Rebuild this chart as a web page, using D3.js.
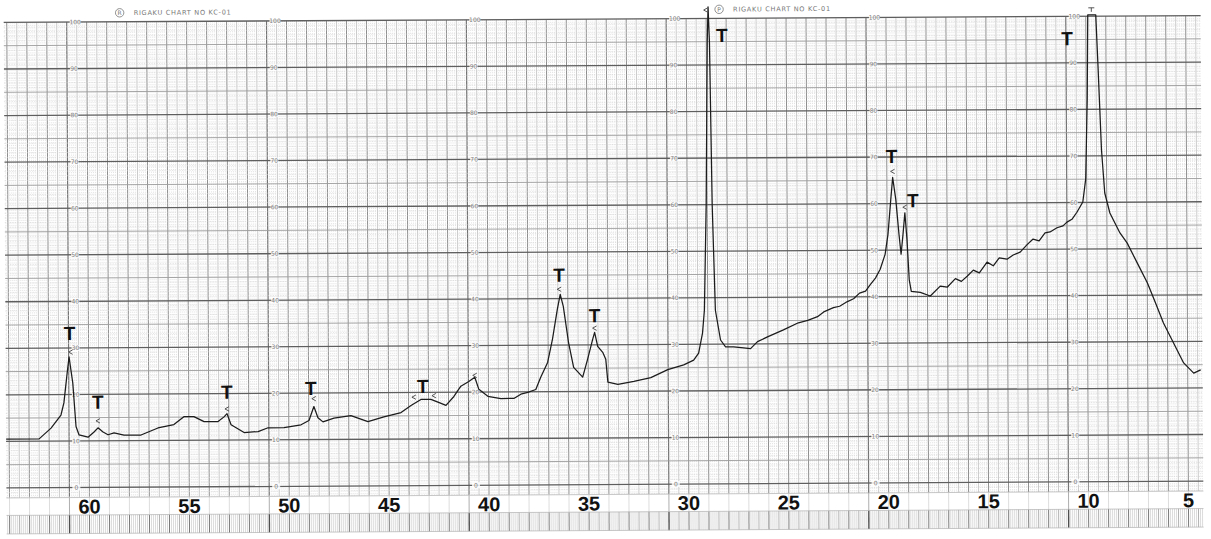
<!DOCTYPE html>
<html>
<head>
<meta charset="utf-8">
<script src="https://cdn.jsdelivr.net/npm/d3@7"></script>
<style>
  html, body { margin: 0; padding: 0; background: #fff; }
  svg { display: block; }
</style>
</head>
<body>
<svg id="chart" width="1211" height="539"></svg>
<script>
// Diffractometer trace: 2θ in degrees (scan runs from high to low angle) and recorder reading (% of full scale)
const twoTheta = [
  64.15, 62.50, 61.90, 61.40, 61.25, 61.10, 60.98, 60.80, 60.65, 60.50,
  60.05, 59.75, 59.55, 59.30, 59.05, 58.75, 58.25, 57.40, 56.55, 55.75,
  55.25, 54.75, 54.24, 53.54, 53.24, 53.09, 52.89, 52.24, 51.54, 51.04,
  50.24, 49.39, 48.99, 48.74, 48.54, 48.29, 47.74, 46.89, 46.04, 45.24,
  44.38, 43.88, 43.38, 42.88, 42.53, 42.13, 41.73, 41.38, 40.98, 40.68,
  40.48, 40.03, 39.38, 38.73, 38.38, 38.03, 37.63, 37.38, 37.03, 36.78,
  36.53, 36.38, 36.23, 35.98, 35.73, 35.28, 35.03, 34.77, 34.67, 34.52,
  34.27, 34.12, 34.02, 33.52, 32.72, 31.87, 31.02, 30.22, 29.72, 29.47,
  29.27, 29.17, 29.05, 28.95, 28.90, 28.84, 28.75, 28.62, 28.37, 28.12,
  27.72, 27.22, 26.87, 26.52, 26.02, 25.22, 24.47, 24.00, 23.51, 23.20,
  22.71, 22.40, 22.01, 21.70, 21.40, 21.10, 20.86, 20.60, 20.36, 20.11,
  19.96, 19.81, 19.71, 19.56, 19.41, 19.31, 19.21, 19.11, 19.01, 18.91,
  18.81, 18.36, 17.86, 17.36, 17.00, 16.60, 16.30, 16.01, 15.70, 15.40,
  15.01, 14.70, 14.40, 14.01, 13.70, 13.35, 13.00, 12.70, 12.40, 12.10,
  11.85, 11.50, 11.20, 11.00, 10.75, 10.50, 10.20, 10.05, 9.95, 9.90,
  9.50, 9.40, 9.25, 9.10, 8.85, 8.35, 7.99, 7.49, 6.99, 6.59,
  6.20, 5.70, 5.20, 4.70, 4.35
];
const intensity = [
  10.5, 10.5, 12.8, 15.6, 18.2, 23.8, 28.1, 22.5, 13.1, 11.3,
  10.8, 11.9, 12.8, 11.9, 11.3, 11.7, 11.2, 11.2, 12.7, 13.4,
  15.1, 15.1, 14.0, 14.0, 15.0, 15.7, 13.3, 11.6, 11.8, 12.6,
  12.6, 13.2, 14.1, 17.1, 14.7, 13.8, 14.6, 15.1, 13.8, 14.8,
  15.7, 17.2, 18.5, 18.5, 17.9, 17.2, 19.1, 21.3, 22.3, 23.2,
  20.6, 19.1, 18.6, 18.6, 19.5, 19.9, 20.5, 23.1, 26.3, 31.3,
  37.7, 40.9, 38.3, 30.6, 25.2, 23.1, 26.9, 31.2, 32.7, 29.7,
  28.4, 26.9, 22.0, 21.5, 22.1, 22.9, 24.6, 25.6, 26.6, 28.1,
  32.4, 37.3, 60.0, 95.0, 102.5, 95.0, 60.0, 37.3, 30.9, 29.4,
  29.4, 29.2, 29.0, 30.5, 31.5, 33.0, 34.5, 35.0, 35.8, 36.8,
  37.7, 38.0, 39.0, 39.6, 40.8, 41.2, 42.6, 44.0, 45.9, 49.1,
  53.4, 60.9, 65.6, 60.9, 53.4, 49.1, 53.3, 58.0, 52.2, 43.6,
  41.1, 40.9, 40.1, 42.2, 42.0, 43.8, 43.2, 44.3, 45.6, 45.0,
  47.3, 46.5, 48.2, 47.9, 48.8, 49.4, 51.0, 52.2, 51.8, 53.5,
  53.7, 54.6, 55.0, 55.8, 56.4, 57.9, 60.1, 65.0, 82.2, 100.3,
  100.3, 89.1, 71.2, 62.0, 57.7, 53.4, 51.2, 46.9, 42.6, 38.3,
  34.0, 29.7, 25.4, 23.2, 23.9
];

// Bold angle labels printed along the foot of the chart
const axisTicks = [60, 55, 50, 45, 40, 35, 30, 25, 20, 15, 10, 5];

// Hand-written "T" peak annotations: 2θ and level of each letter
const tLabelTheta = [60.95, 59.55, 53.09, 48.89, 43.28, 36.43, 34.67, 28.22, 19.76, 18.71, 10.95];
const tLabelLevel = [31.7, 16.9, 18.9, 19.6, 19.9, 43.6, 34.9, 94.9, 68.7, 59.2, 93.8];

// Pen ticks the recorder left at the peak tops
const penTickTheta = [60.90, 59.55, 53.09, 48.74, 43.73, 42.73, 40.68, 36.43, 34.67, 29.02, 19.71, 19.11];
const penTickLevel = [29.1, 14.3, 16.7, 18.8, 19.0, 19.3, 23.6, 42.0, 33.6, 101.8, 66.9, 59.2];

// Printed scale of the recorder paper
const paperScale = [0, 10, 20, 30, 40, 50, 60, 70, 80, 90, 100];
const paperSections = [61, 51, 41, 31, 21, 11];
const paperHeaders = [61, 31];

const W = 1211, H = 539;
const x = d3.scaleLinear().domain([60, 5]).range([88, 1187]);
const y = d3.scaleLinear().domain([0, 100]).range([484.5, 19]);
const xLeft = 5, xRight = 1202;
const thetaHigh = x.invert(xLeft), thetaLow = x.invert(xRight);

const svg = d3.select('#chart');
svg.append('rect').attr('width', W).attr('height', H).attr('fill', '#fff');

// the scanned sheet sits very slightly askew
const paper = svg.append('g').attr('transform', 'rotate(-0.33 605 250)');

const y0 = y(0);
const gridBottom = y0 + 10;       // lower edge of the plotting grid
const bandBottom = y0 + 27.5;     // white label strip
const stripBottom = y0 + 46;      // tick ruler under the labels

// ---- vertical rulings (every 0.1°) ----
const tenths = d3.range(Math.ceil(thetaLow * 10), Math.floor(thetaHigh * 10) + 1);
function vStyle(k) {
  if (k % 100 === 10) return { c: '#737373', w: 1.2, d: null };
  if (k % 10 === 0) return { c: '#8e8e8e', w: 1.0, d: null };
  if (k % 5 === 0) return { c: '#b4b4b4', w: 0.7, d: null };
  return { c: '#d2d2d2', w: 0.6, d: '1.2,1.3' };
}
const vg = paper.append('g');
tenths.forEach(k => {
  const s = vStyle(k);
  const xx = x(k / 10);
  vg.append('line')
    .attr('x1', xx).attr('x2', xx)
    .attr('y1', y(100)).attr('y2', gridBottom)
    .attr('stroke', s.c).attr('stroke-width', s.w)
    .attr('stroke-dasharray', s.d);
});

// ---- horizontal rulings (every unit) ----
const hg = paper.append('g');
d3.range(-2, 101).forEach(v => {
  let c = '#d2d2d2', w = 0.6, d = '1.2,1.3';
  if (v % 10 === 0) { c = '#5e5e5e'; w = 1.3; d = null; }
  else if (v % 5 === 0) { c = '#9c9c9c'; w = 0.9; d = null; }
  hg.append('line')
    .attr('x1', xLeft).attr('x2', xRight)
    .attr('y1', y(v)).attr('y2', y(v))
    .attr('stroke', c).attr('stroke-width', w)
    .attr('stroke-dasharray', d);
});

// ---- label strip and tick ruler ----
paper.append('rect')
  .attr('x', xLeft).attr('y', gridBottom)
  .attr('width', xRight - xLeft).attr('height', bandBottom - gridBottom)
  .attr('fill', '#fff');
const bg = paper.append('g');
tenths.forEach(k => {
  const xx = x(k / 10);
  if (k % 10 === 0) {
    bg.append('line').attr('x1', xx).attr('x2', xx)
      .attr('y1', gridBottom).attr('y2', bandBottom)
      .attr('stroke', k % 100 === 10 ? '#9a9a9a' : '#d4d4d4').attr('stroke-width', 0.8);
  }
  let c = '#c4c4c4', w = 0.6;
  if (k % 100 === 10) { c = '#4e4e4e'; w = 1.4; }
  else if (k % 10 === 0) { c = '#7a7a7a'; w = 1.0; }
  else if (k % 5 === 0) { c = '#9e9e9e'; w = 0.8; }
  bg.append('line').attr('x1', xx).attr('x2', xx)
    .attr('y1', bandBottom).attr('y2', stripBottom)
    .attr('stroke', c).attr('stroke-width', w);
});
[gridBottom, bandBottom, stripBottom].forEach(yy => {
  bg.append('line').attr('x1', xLeft).attr('x2', xRight)
    .attr('y1', yy).attr('y2', yy)
    .attr('stroke', '#b0b0b0').attr('stroke-width', 0.7);
});

// ---- printed scale numbers on the paper ----
const sg = paper.append('g')
  .attr('font-family', 'DejaVu Sans, sans-serif')
  .attr('font-size', 6).attr('fill', '#808080')
  .attr('text-anchor', 'middle');
paperSections.forEach(s => {
  paperScale.forEach(v => {
    sg.append('rect')
      .attr('x', x(s) + 3).attr('y', y(v) - 3)
      .attr('width', v === 100 ? 11 : 8).attr('height', 6)
      .attr('fill', '#fff').attr('opacity', 0.8);
    sg.append('text')
      .attr('x', x(s) + (v === 100 ? 8.5 : 7)).attr('y', y(v) + 2.2)
      .text(v);
  });
});

// ---- paper maker's imprint ----
paperHeaders.forEach((s, i) => {
  const hx = x(s) + 53, hy = y(100) - 9;
  const g = paper.append('g').attr('fill', '#777').attr('font-family', 'DejaVu Sans, sans-serif');
  g.append('circle').attr('cx', hx).attr('cy', hy).attr('r', 4.2)
    .attr('fill', 'none').attr('stroke', '#777').attr('stroke-width', 0.8);
  g.append('text').attr('x', hx).attr('y', hy + 2.3).attr('font-size', 6)
    .attr('text-anchor', 'middle').text(i === 0 ? 'R' : 'P');
  g.append('text').attr('x', hx + 14).attr('y', hy + 2.3).attr('font-size', 6.6)
    .attr('letter-spacing', 0.7).text('RIGAKU CHART NO KC-01');
});

// ---- recorder trace ----
const trace = twoTheta.map((t, i) => [t, intensity[i]]);
paper.append('path')
  .datum(trace)
  .attr('d', d3.line().x(d => x(d[0])).y(d => y(d[1])))
  .attr('fill', 'none')
  .attr('stroke', '#1c1c1c')
  .attr('stroke-width', 1.25)
  .attr('stroke-linejoin', 'round');

// ---- pen ticks at peak tops (small chevrons) ----
paper.append('g').selectAll('path')
  .data(penTickTheta.map((t, i) => [t, penTickLevel[i]]))
  .join('path')
  .attr('transform', d => `translate(${x(d[0])},${y(d[1])})`)
  .attr('d', 'M2,-2.2 L-2,0 L2,2.2')
  .attr('fill', 'none')
  .attr('stroke', '#444')
  .attr('stroke-width', 0.9);
// flat-topped cap drawn by the pen over the clipped 9.7° peak
paper.append('path')
  .attr('transform', `translate(${x(9.72)},${y(101.8)})`)
  .attr('d', 'M-3,0 L3,0 M0,0 L0,4')
  .attr('fill', 'none')
  .attr('stroke', '#444')
  .attr('stroke-width', 0.9);

// ---- "T" annotations ----
paper.append('g').selectAll('text')
  .data(tLabelTheta.map((t, i) => [t, tLabelLevel[i]]))
  .join('text')
  .attr('x', d => x(d[0])).attr('y', d => y(d[1]))
  .attr('text-anchor', 'middle')
  .attr('font-family', 'Liberation Sans, Arial, sans-serif')
  .attr('font-weight', 'bold')
  .attr('font-size', 19).attr('fill', '#111')
  .text('T');

// ---- angle labels ----
paper.append('g').selectAll('text')
  .data(axisTicks)
  .join('text')
  .attr('x', d => x(d)).attr('y', bandBottom - 1.5)
  .attr('text-anchor', 'middle')
  .attr('font-family', 'Liberation Sans, Arial, sans-serif')
  .attr('font-weight', 'bold')
  .attr('font-size', 20).attr('fill', '#111')
  .text(d => d);
</script>
</body>
</html>
